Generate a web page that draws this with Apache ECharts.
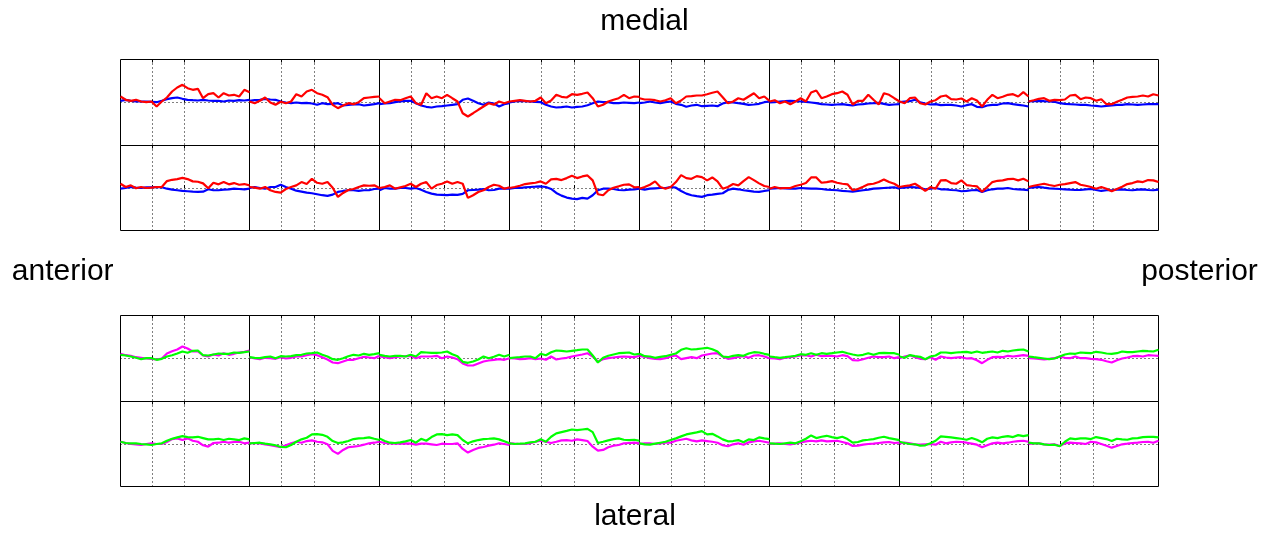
<!DOCTYPE html>
<html><head><meta charset="utf-8">
<script src="https://cdn.jsdelivr.net/npm/echarts@6/dist/echarts.min.js"></script>
<style>html,body{margin:0;padding:0;background:#fff}#c{width:1271px;height:535px}</style>
</head><body><div id="c"></div>
<script>
// sample positions along each panel (0..100)
const sampleX = [0,4,8,12,16,20,24,28,32,36,40,44,48,52,56,60,64,68,72,76,80,84,88,92,96,100];
// dotted reference positions inside each panel
const dottedX = [24.3, 49.7];
const dottedY = [0];
const yRange = [-43, 43];

// medial block, upper row
const medialUpperBlue = [
 [1.7,2.7,1.7,1,1,1,0.7,0.3,1.7,3.3,4.3,5,3.7,2.7,2.3,2,2.7,2,1.7,1.7,1,2,1.7,2.3,2,2.7],
 [1.7,2.3,2.7,3.7,3,2.7,1,0,-0.7,0,-0.7,-0.3,-1,-2.3,-0.7,-1.7,-1.3,-0.7,-3,-2.3,-2,-1.7,-3,-2.3,-1.7,-0.7],
 [-1.7,-1,-0.7,0.3,1,1.7,1.7,-0.7,-3,-4.3,-5,-4,-3.7,-3,-2.3,-1.7,2.7,4,1.7,-0.7,-2.3,0,-1,-4,-1.7,-0.7],
 [0,1,1.7,1.3,1,0.7,0.3,-2.3,-4,-5,-4.7,-4,-5,-4.3,-4,-2.7,-0.7,1,0.3,0.3,-0.7,-0.7,0,-0.3,-0.7,0],
 [-0.7,0,1,0,-0.7,0.3,1,-1.3,-2.3,-4.3,-3,-2.3,-3.7,-3.3,-3,-3.7,-1,0.3,0,-0.7,-1.3,-2.3,-2,-1.3,0.3,1],
 [0,0.3,1,1.3,1.7,1.3,1,0.7,0,-0.7,-1.7,-2,-2.3,-2,-1.7,-2.3,-3,-2,-1.7,-1,-0.7,-0.3,-1.3,-2.3,-2,-1.7],
 [0.3,1,1.3,2.7,0.3,-1,-2,-1.7,-2.7,-2.3,-2.3,-3,-4,-2.7,-1.7,-4.3,-4.7,-3,-2.3,-2.3,-1,-0.7,-1.7,-2.3,-3,-4],
 [1,1.3,1.7,1.3,1,0.7,-0.7,-1.3,-1.7,-2,-2.3,-2.3,-3,-3.3,-4,-3.3,-3,-2.3,-2.3,-1.7,-2,-2.3,-2,-1.7,-1.7,-1.7]
];
const medialUpperRed = [
 [6,2.7,1.7,2.7,1,0.3,1,-4,1,5,11,15,17.7,14.3,12.7,13.7,4.3,8.3,9.3,5,9.3,7,7.7,6,12.7,10.3],
 [1,-0.7,1.7,5,0,-2.3,0.7,-0.7,1,8.3,6,11,12.7,9.3,7.7,5.3,-2.3,-5.7,-3,-0.7,-1.7,0.3,4.3,5,5.7,6],
 [4.3,-0.7,1,2.7,2.3,4.3,6,-0.7,-2.3,9.3,4.3,6,4.3,7.7,4.3,1,-10.7,-14,-10.7,-7.3,-4,-0.7,-2.3,1,-0.7,1],
 [1,1.7,2.3,1.7,1,1.7,5,-0.7,2,7.7,5.7,5,8.3,7.7,8.7,10,4.3,-4,-2.3,1,2.7,4.3,7.7,4.3,6,5.7],
 [4.3,3,3,2.3,1,2.3,4.3,-0.7,2,6,6.3,7,7,8.3,9.7,11,5.3,-0.7,1,4.3,2.7,6,9.3,4.3,6,1.7],
 [1,2.3,-0.7,1,-1.7,1,4.3,1,10,12,4.3,6,8.3,9.3,11,7.7,-2,1.7,1.7,7.7,2.7,-2,9.3,7.7,4.3,1],
 [1,-0.7,4.3,5,-0.7,-2,1,2.3,6,7,3.3,3,4,1,4.3,2,-4,2.7,7.7,4.3,5.7,7.7,8.3,6,10.3,6],
 [1,2.3,3.7,4.3,1.7,2.7,2.3,3,7,7.7,3.3,5,4.3,1.7,3.3,-1.7,-1.7,0.7,2.7,5,5.7,6,7,6,8.3,7]
];
// medial block, lower row
const medialLowerBlue = [
 [-0.7,0,1,0.3,0,0.7,0.7,1,0.7,-0.7,-1.7,-2.3,-3,-3.3,-3.7,-4,-3.7,-1.3,-2.3,-2.3,-1.7,-1.3,-0.7,-1,-1.3,-0.7],
 [0,1,0,-0.7,1,1,3.3,1,-0.7,-2.7,-3.7,-4.7,-5.3,-6.3,-7.3,-8,-6.7,-4,-3,-2.3,-2.3,-3,-2.3,-2.3,-1,-0.7],
 [-2.3,0,-0.7,-0.7,0,0,-0.7,0,-1.7,-4,-5.7,-6.7,-7,-7.3,-6.7,-7,-6,-2.3,-2,-1.7,-1,-2.3,-2,-0.7,-0.7,-0.7],
 [-0.7,0,0,0.7,1,1.3,1.7,1,-1,-5,-7.7,-9.7,-10.7,-11.3,-10,-10.7,-7.3,-2.3,-0.7,-0.7,-1,-2,-2.3,-1.7,-1.3,-0.7],
 [-0.7,-1.7,-0.7,-0.3,0,0,1,0.3,-3,-5.7,-7.3,-8.3,-9,-7.3,-6.7,-6,-5.3,-2,-0.7,-1.3,-2.3,-3,-3.7,-4,-3,-2.3],
 [-0.7,-0.3,0,-0.3,-0.7,-0.7,0,-0.3,-0.7,-0.7,-1,-1.7,-2,-2.3,-3,-3.3,-3.7,-3,-2.3,-1.7,-0.7,-0.3,0,0.3,0.7,-0.7],
 [0,0.3,1,0.7,0,-1.3,-0.7,0,-1.3,-1.3,-2,-2.3,-3.3,-3,-2.3,-2,-4,-2.3,-1.3,-0.7,-0.7,0,-1,-1.3,-1.7,-2.3],
 [0,0.7,1,0.3,-0.3,-0.7,-1,-1.3,-1.7,-2,-2,-1.3,-1,-2,-3,-2.3,-2.3,-1.7,-1.3,-2,-2.3,-1.7,-1.3,-2,-2.3,-1.7]
];
const medialLowerRed = [
 [4.3,1,2.7,-0.3,1,0,0.3,1,1,7,8.3,9,10.3,9,6.7,6.3,4.7,-0.3,5.3,3.7,6,3.7,5,3.3,4,2.7],
 [1,0.3,-0.7,1,-2.3,-4,-4.7,-1,1,2.7,6,4,9.3,5.3,4.3,6,0.3,-9,-5,-2,-1,1,2.7,2.3,2.7,0],
 [0,1,2.7,-0.7,0.7,2,4.3,1,4.3,6,-0.7,3,4.3,6.7,4.3,6,4.3,-10,-7.3,-4,-2.3,1,3.3,2.3,-0.7,0.7],
 [0,1,2.3,4,4.7,5.3,6.7,4.3,8.7,9.3,8,10,12.3,10,11.7,12.7,7.7,-6.3,-7.3,-2.3,0.3,1.7,3.3,3.7,0.7,1],
 [-0.7,1,3.3,6.7,1,-0.7,1,6,13,10,9.3,12,11,7.7,10.7,6.7,-0.7,1,4,2.7,7,11,8,4.7,2,1],
 [-0.7,1,-0.3,0,0,2,3.3,5,10.7,10.7,5.3,6,7,5.3,4.3,3.7,-2.3,-1,1.3,3.7,4.3,6,8.7,6,4.3,1],
 [1,2,2.7,4.3,1,-3,1,-0.7,7.7,8,5,4.3,7.7,3,2.3,1.7,-3.7,1,6,7.3,7.7,9,9.3,7.7,9.3,6.7],
 [1,2.3,3.3,4.3,3,2,3.3,4,5,6,3.3,2.3,1,-0.7,1,-0.7,-3.3,-1,1.3,4,5,6.7,6,8,7.7,6]
];
// lateral block, upper row
const lateralUpperMagenta = [
 [4.7,3.3,2.7,1.3,0.7,0,-0.3,-1,0,5,7.3,9,12,10,7,7,3,2,4,3,5.3,3.7,4.7,6,6.7,8],
 [1.3,0,-0.7,0.7,0.3,-0.3,1.3,0,0.7,2,2,3.3,4.3,3.3,1.3,-1,-4,-4.7,-3,-1.3,-1.3,0.3,1.7,1,0.3,2.7],
 [2,1.3,0.3,1.3,2,2.3,2.7,0.3,2,2,2,2.7,0.3,2,1,-0.7,-5,-7,-7,-5,-3,-2,-1.3,-0.7,-1.3,0.3],
 [0.3,0,-0.7,-0.3,0.3,-0.7,0,-1.3,2,-1,0,0.7,2,3,4,5.3,2,-3,-0.7,0.3,1,1.7,2,1.7,1.3,2.7],
 [2.7,1.7,0.3,-0.3,-0.7,0.3,2,3,-0.7,0.3,1.3,0.3,3,4,5,5.3,2,-0.3,0.3,1.7,2.3,0.7,3,3.3,2,0.3],
 [0.3,0,-0.7,0.7,1.3,2,3,3.3,2,3.7,2.3,2.7,2.7,2,3.3,2.3,-1.7,-2,-0.7,0.7,2,1.3,1.3,2,0.3,1.3],
 [0.3,2,3.3,1.3,-0.3,-0.7,1.3,-1.3,2,1,0.3,1,1.3,0,0.3,-1.7,-4.7,-1.3,1.3,1.7,1.3,2.7,2,2.7,3.3,2.7],
 [0.3,0,-0.3,-1,-0.3,0.3,2,0.7,0.3,2,0.3,0.3,-0.3,-0.7,-1.3,-2.7,-4,-1.7,0,1,2.3,2.7,2,3.3,3,2.7]
];
const lateralUpperGreen = [
 [3.7,3,2,0.7,-0.7,0.3,0.3,-1.3,-0.3,2,3.3,5,7,5.7,7.7,8,3.3,3,4,5,4.7,4.7,6,5.7,6.3,7],
 [1.3,0.7,0.3,1.3,2,0.3,2.3,2,2.3,3.3,3.7,5,5.3,6,3.7,2,-0.7,-1.3,0.3,2.3,3.7,3,4.7,3.7,4.3,5.3],
 [3.7,2.7,2,2.7,2.7,2,3.7,2,6.3,6,5.7,5.7,6,7,4.3,2.3,-3.3,-4.3,-3,-1,2,0.3,1.7,3.7,2,3.7],
 [0.3,1,1.3,2,2,0.3,4.7,3.3,6.3,8,7.7,7,7.7,8.3,9,9,3,-4,0.7,2.7,4,5.3,5.7,6,4,4.7],
 [4.7,2.3,2,0.7,1.7,2.3,3.7,5,8.7,10.3,9,9.3,10,10.7,9.3,7,2,1.3,2.7,3.3,2.7,5,6.3,6,4.7,3.7],
 [2,1.3,0.7,1.3,2,2.7,4.3,3.7,5.3,3.7,5.3,4.7,5.3,6,6.7,5.3,4,3,3.7,5.3,3.7,5.3,5.7,5.3,5.3,3.7],
 [2,0.7,3.3,2.3,1.7,-0.7,2,3,6,6,5.3,6,6.3,6.7,5.7,7,5.7,6.3,7,6,7.7,7,8,8.7,9,7],
 [2,1.3,0.7,0,-0.7,0,2,4,5,4.7,6,5.7,5.3,6.7,6,5,4.7,5.3,7,6.3,6.3,7,7.7,7.3,7,8.7]
];
// lateral block, lower row
const lateralLowerMagenta = [
 [2.3,1,0,-0.3,-1,0,0.7,0,0,2,5,5.7,4,5.7,3.3,2.3,-1.3,-2.7,1,1.3,2.3,1.3,2,2.3,0.7,1.3],
 [0.7,1,0.7,-0.3,-1.3,-2.3,-3.3,-1.3,0.7,2.3,1.3,3,3.7,2.3,1.7,-0.3,-7,-10,-6,-3.3,-2.7,-2,-0.7,0.7,1.3,2.3],
 [2.3,1,0.7,0.3,0.3,0.7,0.3,-0.7,0.3,0.3,-0.3,-1,0.3,0,0,0.7,-5,-8.7,-6,-4,-3,-1.7,-0.7,0.7,0,-1],
 [0.7,0.3,0,0,0.7,2.3,3.3,2.3,1,2.3,3.7,4,3.3,4.7,4,3,-2.7,-6.7,-6,-3.3,-1.7,-1,0.7,1,1.3,0.7],
 [0,0.7,0.7,0,0.7,1.3,1.3,3.3,4.3,5.3,3.7,2.7,3.7,3,2.3,1.3,-1.3,-2.3,-0.3,0.7,-0.7,1.7,2.7,3.3,2.3,1.3],
 [0,0.3,0.7,0,-0.3,0.7,1.7,2.7,3.3,2.7,3.7,2.7,3,3.3,2,0.7,-2,-1.7,-0.7,0,0.3,1,1.7,2,1,1.3],
 [0.7,1.3,0.7,-0.3,-0.7,-0.3,0,-0.7,2.3,0.7,1.7,2.3,2,1.3,0.3,-0.7,-3.3,-1.3,0.7,1.3,0.7,1.3,2.3,3,3.3,2.3],
 [0,0.7,0.7,-0.3,-0.7,-0.3,-2,0.7,1.3,1,0.7,0,2.3,1.7,0,-1.7,-3.7,-2,-0.3,0.3,1,1.3,2,2.3,1.3,3.3]
];
const lateralLowerGreen = [
 [2.3,1,0.7,0.7,0,-0.3,-1,0,0.7,3.3,5.3,6.7,8,7,6.7,7.3,6,4.7,4.7,5.3,4,5.3,4.7,4,5.7,4.7],
 [0.7,1,1.3,0.3,-0.3,-1.3,-3,-3.3,-1,2.3,4.7,6.3,9.7,10,9.3,7.3,3,1,1.7,3,5,5.7,6,6.7,5.3,4],
 [5.7,3,1.3,1,1.7,2.7,4,1.3,5.3,3.3,7,9.7,10,9,9.7,9,4,0.7,2.7,4,5,5.3,5.7,4.7,2.7,0.7],
 [0.7,0,0.3,0.7,1.7,2.3,4.7,2.3,7.3,10.7,12,13.3,14.7,14,14.7,15.3,12,1,2.3,3.7,5,5.7,4.3,4,4.3,3.3],
 [0.7,-0.3,-0.7,0.3,1.3,2.3,4,5.7,7.7,9.7,10.7,11.7,13,9.7,10.3,7.7,4.7,2.7,3,4,1.7,4.7,4,6.7,5.7,5],
 [0.7,0.3,0,0.7,1.3,0.7,2.7,5.3,8.7,6,7.3,8.3,7,6,7.3,5,1.3,2,3.7,4.3,5,6.3,7.3,6,5,4],
 [2.3,1,0,-0.3,-1.7,-1.3,0.7,3.3,7.7,7.3,6.7,6,5.3,4.3,6,4.3,1.7,5.3,6.7,6,7.3,8,7,9,8,9],
 [1.3,0.7,0.7,-0.3,-1,-0.7,-2.3,2.3,5.7,5,5.7,5.7,5,7,6,5,3,5.3,4.7,4.3,5.7,6,7,7.3,7.3,6.7]
];

const labels = {top:'medial', bottom:'lateral', left:'anterior', right:'posterior'};

const colEdges = [120.5, 249.5, 379.5, 509.5, 639.5, 769.5, 899.5, 1028.5, 1158.5];
const rows = [
  {top:59.5, h:86, first:medialUpperBlue, second:medialUpperRed, c1:'#0000ff', c2:'#ff0000'},
  {top:145.5, h:85, first:medialLowerBlue, second:medialLowerRed, c1:'#0000ff', c2:'#ff0000'},
  {top:315.5, h:86, first:lateralUpperMagenta, second:lateralUpperGreen, c1:'#ff00ff', c2:'#00ff00'},
  {top:401.5, h:85, first:lateralLowerMagenta, second:lateralLowerGreen, c1:'#ff00ff', c2:'#00ff00'}
];

const dotted = {show: true, lineStyle: {color: '#000', width: 1, type: [1, 3]}};
const grid = [], xAxis = [], yAxis = [], series = [];
let gi = 0;
rows.forEach(r => {
  for (let c = 0; c < 8; c++) {
    grid.push({left: colEdges[c], top: r.top, width: colEdges[c+1]-colEdges[c], height: r.h,
      show: true, borderColor: '#000', borderWidth: 1, backgroundColor: 'transparent'});
    xAxis.push({gridIndex: gi, type: 'value', min: 0, max: 100, position: 'bottom',
      axisLine: {show: false}, axisLabel: {show: false}, splitLine: dotted,
      axisTick: {show: true, inside: true, length: 3, customValues: dottedX, lineStyle: {color: '#000'}}});
    xAxis.push({gridIndex: gi, type: 'value', min: 0, max: 100, position: 'top',
      axisLine: {show: false}, axisLabel: {show: false}, splitLine: {show: false},
      axisTick: {show: true, inside: true, length: 3, customValues: dottedX, lineStyle: {color: '#000'}}});
    yAxis.push({gridIndex: gi, type: 'value', min: yRange[0], max: yRange[1],
      axisLine: {show: false}, axisLabel: {show: false}, splitLine: dotted,
      axisTick: {show: false, customValues: dottedY}});
    const xi = gi * 2;
    series.push({type: 'line', xAxisIndex: xi, yAxisIndex: gi, silent: true, symbol: 'none', z: 2,
      data: sampleX.map((x, j) => [x, r.first[c][j]]),
      lineStyle: {color: r.c1, width: 2.2}});
    series.push({type: 'line', xAxisIndex: xi, yAxisIndex: gi, silent: true, symbol: 'none', z: 3,
      data: sampleX.map((x, j) => [x, r.second[c][j]]),
      lineStyle: {color: r.c2, width: 2.2}});
    gi++;
  }
});

const font = '30px "Liberation Sans", Arial, sans-serif';
const graphic = [
  {type: 'text', style: {text: labels.top, x: 644.5, y: 22, font, fill: '#000', align: 'center', verticalAlign: 'middle'}},
  {type: 'text', style: {text: labels.bottom, x: 635, y: 516.5, font, fill: '#000', align: 'center', verticalAlign: 'middle'}},
  {type: 'text', style: {text: labels.left, x: 62.7, y: 271.5, font, fill: '#000', align: 'center', verticalAlign: 'middle'}},
  {type: 'text', style: {text: labels.right, x: 1199.5, y: 271.5, font, fill: '#000', align: 'center', verticalAlign: 'middle'}}
];

const chart = echarts.init(document.getElementById('c'), null, {renderer: 'canvas'});
chart.setOption({animation: false, backgroundColor: '#fff', grid, xAxis, yAxis, series, graphic});
</script></body></html>
